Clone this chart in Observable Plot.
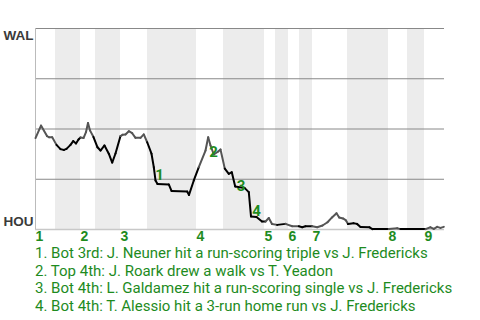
<!DOCTYPE html>
<html>
<head>
<meta charset="utf-8">
<script src="https://cdn.jsdelivr.net/npm/d3@7"></script>
<script src="https://cdn.jsdelivr.net/npm/@observablehq/plot@0.6"></script>
<style>
  html, body { margin: 0; padding: 0; background: #fff; }
  #chart svg { display: block; overflow: visible; }
  #notes { font-family: Roboto, "Noto Sans", sans-serif; font-size: 15px; line-height: 17.5px; color: #1e8b1e; padding-left: 35px; padding-top: 1px; white-space: nowrap; }
</style>
</head>
<body>
<div id="chart"></div>
<div id="notes"></div>
<script>
// Game progress (plate-appearance axis) and WAL win probability after each play
const progress = [0, 5.5, 11.5, 13.5, 16.7, 21, 25, 28.5, 31, 35, 37.7, 40.5, 43, 45, 48, 50.5, 52.5, 54.5, 58, 62,
  65, 69, 73.3, 76.7, 80, 85, 87, 90, 93.3, 96.7, 100, 105, 108.3, 111.7, 116, 118.3, 120, 122, 133.3, 136,
  151.7, 153.5, 158.3, 163.3, 170, 172.7, 175, 178.3, 182.7, 185, 189.3, 193.3, 196.3, 199.7, 209, 213.3, 215.5, 221, 226.5, 230,
  233.3, 236.5, 241.7, 250, 256.7, 263.3, 266.7, 270, 276.7, 281.7, 287, 292, 296.5, 301, 303.7, 307.5, 310.5, 312.5, 318, 321.5,
  325, 334, 337, 353.3, 361.7, 365, 390, 395, 398.3, 401.7, 405, 408.3];
const winProb = [0.455, 0.517, 0.465, 0.459, 0.459, 0.421, 0.400, 0.396, 0.401, 0.421, 0.440, 0.428, 0.448, 0.458, 0.455, 0.485, 0.530, 0.493, 0.460, 0.409,
  0.393, 0.418, 0.377, 0.333, 0.378, 0.465, 0.471, 0.473, 0.489, 0.479, 0.456, 0.456, 0.473, 0.434, 0.377, 0.310, 0.244, 0.226, 0.224, 0.192,
  0.189, 0.172, 0.244, 0.310, 0.393, 0.459, 0.418, 0.373, 0.388, 0.398, 0.303, 0.277, 0.285, 0.214, 0.207, 0.186, 0.065, 0.062, 0.040, 0.040,
  0.057, 0.027, 0.023, 0.028, 0.016, 0.016, 0.011, 0.016, 0.016, 0.011, 0.020, 0.036, 0.060, 0.081, 0.060, 0.055, 0.045, 0.027, 0.031, 0.028,
  0.013, 0.011, 0.002, 0.002, 0.006, 0.002, 0.002, 0.011, 0.003, 0.013, 0.008, 0.013];

// Half-inning boundaries on the progress axis
const inningStart = [0, 45, 85, 161, 229, 253, 277, 353, 389];
const bottomStart = [20, 60, 112, 188, 240, 264, 312, 372];
const inningLabels = ["1", "2", "3", "4", "5", "6", "7", "8", "9"];
const gameEnd = 409;

// Y axis team labels
const topTeam = "WAL";
const bottomTeam = "HOU";

// Key-play annotations
const noteProgress = [124, 178, 205.5, 221];
const noteProb = [0.269, 0.383, 0.214, 0.09];
const noteLabels = ["1", "2", "3", "4"];
const noteTexts = [
  "1. Bot 3rd: J. Neuner hit a run-scoring triple vs J. Fredericks",
  "2. Top 4th: J. Roark drew a walk vs T. Yeadon",
  "3. Bot 4th: L. Galdamez hit a run-scoring single vs J. Fredericks",
  "4. Bot 4th: T. Alessio hit a 3-run home run vs J. Fredericks"
];

const gridValues = [0.25, 0.5, 0.75, 1];

// Build tables
const bands = bottomStart.map((s, i) => ({x1: s, x2: i + 1 < inningStart.length ? inningStart[i + 1] : gameEnd}));
const inBottom = x => bands.some(b => x >= b.x1 && x < b.x2);
const segs = [];
for (let i = 1; i < progress.length; i++) {
  const mid = (progress[i - 1] + progress[i]) / 2;
  segs.push({x1: progress[i - 1], y1: winProb[i - 1], x2: progress[i], y2: winProb[i], bottom: inBottom(mid)});
}
const innings = inningStart.map((x, i) => ({x, label: inningLabels[i]}));
const notes = noteProgress.map((x, i) => ({x, y: noteProb[i], label: noteLabels[i]}));

const green = "#1e8b1e";

const chart = Plot.plot({
  width: 480,
  height: 244,
  marginTop: 28,
  marginBottom: 15,
  marginLeft: 35,
  marginRight: 36,
  x: {domain: [0, gameEnd], axis: null},
  y: {domain: [0, 1], axis: null},
  style: {background: "#fff"},
  marks: [
    Plot.rect(bands, {x1: "x1", x2: "x2", y1: 0, y2: 1, fill: "#ececec"}),
    Plot.ruleY(gridValues, {stroke: "#888", strokeWidth: 1}),
    Plot.ruleY([0], {stroke: "#c8c8c8", strokeWidth: 1.5}),
    Plot.ruleX([0], {stroke: "#bbb", strokeWidth: 1}),
    Plot.link(segs, {x1: "x1", y1: "y1", x2: "x2", y2: "y2",
      stroke: d => d.bottom ? "#000" : "#555", strokeWidth: 2, strokeLinecap: "round"}),
    Plot.text(notes, {x: "x", y: "y", text: "label", fill: green, fontSize: 15, fontWeight: "bold",
      fontFamily: "Roboto, sans-serif", textAnchor: "middle", lineAnchor: "middle"}),
    Plot.text(innings, {x: "x", text: "label", frameAnchor: "bottom", textAnchor: "start", lineAnchor: "top",
      dy: 2, fill: green, fontSize: 14, fontWeight: "bold", fontFamily: "'Liberation Sans', Arial, sans-serif"}),
    Plot.text([topTeam], {text: d => d, frameAnchor: "top-left", textAnchor: "end", lineAnchor: "middle",
      dx: -2, dy: 6.8, fill: "#3a3a3a", fontSize: 13.5, fontWeight: "bold", fontFamily: "'Liberation Sans', Arial, sans-serif"}),
    Plot.text([bottomTeam], {text: d => d, frameAnchor: "bottom-left", textAnchor: "end", lineAnchor: "middle",
      dx: -2, dy: -7.7, fill: "#3a3a3a", fontSize: 13.5, fontWeight: "bold", fontFamily: "'Liberation Sans', Arial, sans-serif"})
  ]
});
document.getElementById("chart").appendChild(chart);
document.getElementById("notes").innerHTML = noteTexts.map(t => `<div>${t}</div>`).join("");
</script>
</body>
</html>
